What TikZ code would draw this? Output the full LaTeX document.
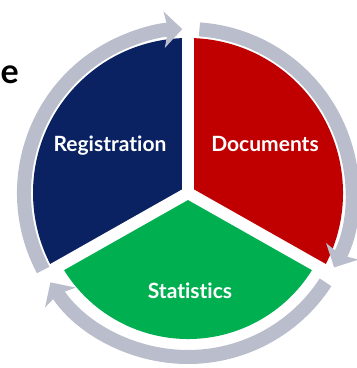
\documentclass[tikz,border=0pt]{standalone}
\usepackage{fontspec}
\setmainfont[Ligatures={NoCommon}]{Lato}
\usetikzlibrary{arrows.meta}
\definecolor{regblue}{RGB}{10,34,98}
\definecolor{docred}{RGB}{192,0,0}
\definecolor{statgreen}{RGB}{0,176,80}
\definecolor{ringgray}{RGB}{186,190,204}
\begin{document}
\begin{tikzpicture}[x=1pt,y=1pt]%
  \tikzstyle{gap}=[white,line width=12pt]
  \tikzstyle{ringarrow}=[ringgray,line width=14pt,-{Stealth[length=18pt,width=36pt,inset=4pt]}]
  \tikzstyle{lbl}=[text=white,anchor=base,font=\bfseries\fontsize{21}{21}\selectfont]
  \useasboundingbox (0,0) rectangle (357,368);
  \coordinate (c) at (188,175);
  \fill[regblue] (c) -- ++(90:155) arc[start angle=90,end angle=210,radius=155] -- cycle;
  \fill[statgreen] (c) -- ++(210:146) arc[start angle=210,end angle=330,radius=146] -- cycle;
  \fill[docred] (c) -- ++(-30:155) arc[start angle=-30,end angle=90,radius=155] -- cycle;
  \draw[gap] (c) -- ++(90:160);
  \draw[gap] (c) -- ++(209.5:160);
  \draw[gap] (c) -- ++(-29.5:160);
  \draw[ringarrow] (c) ++(208:164) arc[start angle=208,end angle=92,radius=164];
  \draw[ringarrow] (c) ++(86:164) arc[start angle=86,end angle=-27,radius=164];
  \draw[ringarrow] (c) ++(-33:164) arc[start angle=-33,end angle=-147,radius=164];
  \node(reg)[lbl] at (110,216) {Registration};
  \node(doc)[lbl] at (265,216) {Documents};
  \node(stat)[lbl] at (190,70) {Statistics};
  \node(e)[anchor=base west,inner sep=0,font=\bfseries\fontsize{34}{34}\selectfont] at (0.5,284) {e};
\end{tikzpicture}
\end{document}
